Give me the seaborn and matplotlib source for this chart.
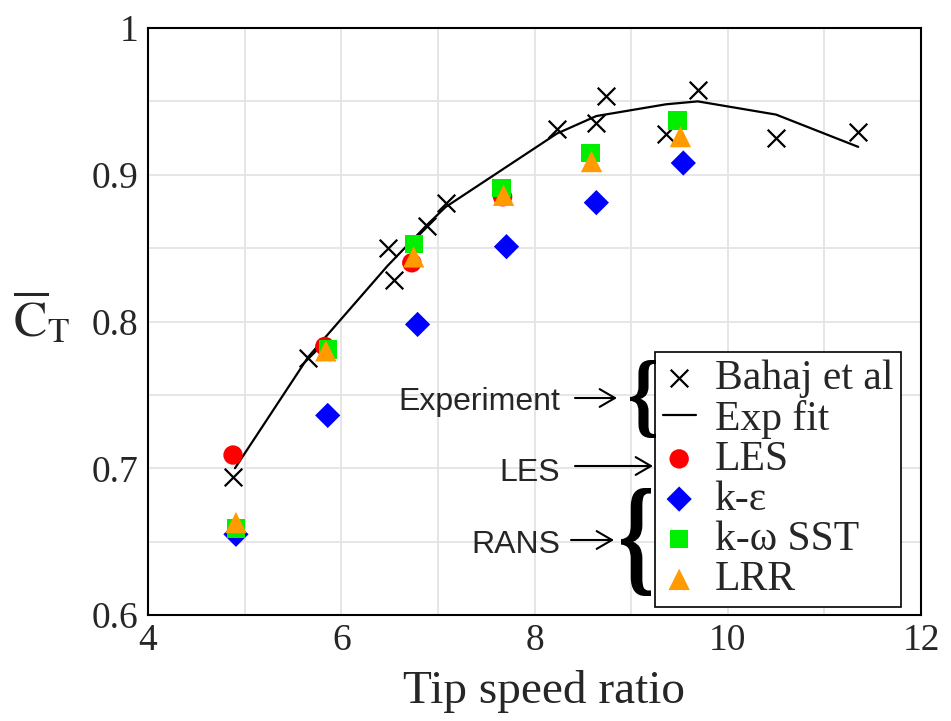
import matplotlib
matplotlib.use("Agg")
import matplotlib.pyplot as plt
import seaborn as sns
import pandas as pd
from matplotlib.textpath import TextPath
from matplotlib.font_manager import FontProperties
from matplotlib.patches import PathPatch, FancyArrowPatch
from matplotlib.transforms import Affine2D

# ---------------- data ----------------
bahaj_x = [4.88, 5.66, 6.48, 6.55, 6.89, 7.08, 8.23, 8.64, 8.74, 9.36, 9.69, 10.50, 11.35]
bahaj_y = [0.694, 0.775, 0.850, 0.828, 0.865, 0.881, 0.931, 0.935, 0.954, 0.928, 0.958, 0.925, 0.929]

fit_x = [4.90, 5.66, 6.48, 6.89, 7.08, 8.23, 8.64, 9.36, 9.69, 10.50, 11.35]
fit_y = [0.700, 0.776, 0.838, 0.866, 0.878, 0.928, 0.940, 0.948, 0.950, 0.941, 0.919]

les_x = [4.88, 5.83, 6.73, 7.67]
les_y = [0.709, 0.783, 0.840, 0.885]

ke_x = [4.91, 5.86, 6.79, 7.71, 8.64, 9.54]
ke_y = [0.655, 0.736, 0.798, 0.851, 0.881, 0.908]

sst_x = [4.91, 5.86, 6.75, 7.66, 8.58, 9.48]
sst_y = [0.659, 0.781, 0.853, 0.891, 0.915, 0.937]

lrr_x = [4.91, 5.84, 6.75, 7.68, 8.59, 9.51]
lrr_y = [0.663, 0.780, 0.844, 0.886, 0.909, 0.926]

x_major = [4, 6, 8, 10, 12]
x_minor = [5, 7, 9, 11]
y_major = [0.6, 0.7, 0.8, 0.9, 1.0]
y_major_labels = ["0.6", "0.7", "0.8", "0.9", "1"]
y_minor = [0.65, 0.75, 0.85, 0.95]

labels = ["Bahaj et al", "Exp fit", "LES", "k-\u03b5", "k-\u03c9 SST", "LRR"]

# ---------------- figure ----------------
sns.set_style("white")
plt.rcParams["font.family"] = ["Liberation Serif", "DejaVu Serif"]
plt.rcParams["mathtext.fontset"] = "stix"

W, H = 951, 721
fig = plt.figure(figsize=(W / 100, H / 100), dpi=100)
ax = fig.add_axes([148 / W, (H - 615) / H, (921 - 148) / W, (615 - 28) / H])

sns.scatterplot(x=bahaj_x, y=bahaj_y, ax=ax, marker="x", s=160, color="black",
                linewidth=1.6, label=labels[0], zorder=3)
sns.lineplot(x=fit_x, y=fit_y, ax=ax, color="black", linewidth=1.6, label=labels[1],
             sort=False, zorder=3)
sns.scatterplot(x=les_x, y=les_y, ax=ax, marker="o", s=195, color="#ff0000",
                edgecolor="none", label=labels[2], zorder=4)
sns.scatterplot(x=ke_x, y=ke_y, ax=ax, marker="D", s=165, color="#0000ff",
                edgecolor="none", label=labels[3], zorder=5)
sns.scatterplot(x=sst_x, y=sst_y, ax=ax, marker="s", s=175, color="#00ee00",
                edgecolor="none", label=labels[4], zorder=6)
sns.scatterplot(x=lrr_x, y=lrr_y, ax=ax, marker="^", s=235, color="#ff9a00",
                edgecolor="none", label=labels[5], zorder=7)

ax.set_xlim(4, 12)
ax.set_ylim(0.6, 1.0)
ax.set_xticks(x_major)
ax.set_xticks(x_minor, minor=True)
ax.set_yticks(y_major)
ax.set_yticks(y_minor, minor=True)
ax.set_xticklabels([str(v) for v in x_major])
ax.set_yticklabels(y_major_labels)
ax.tick_params(axis="both", which="both", length=0, labelsize=27)
ax.tick_params(axis="x", pad=6)
ax.tick_params(axis="y", pad=7)
ax.grid(True, which="both", color="#e4e4e4", linewidth=1.3)
ax.set_axisbelow(True)
ax.set_xlabel("")
ax.set_ylabel("")
for sp in ax.spines.values():
    sp.set_visible(True)
    sp.set_color("black")
    sp.set_linewidth(1.5)

# legend
handles, labs = ax.get_legend_handles_labels()
leg = ax.legend(handles, labs, loc="upper left",
                bbox_to_anchor=(655 / W, 1 - 352 / H), bbox_transform=fig.transFigure,
                borderaxespad=0, prop={"family": "Liberation Serif", "size": 30},
                frameon=True, fancybox=False, framealpha=1, edgecolor="black",
                borderpad=0.18, labelspacing=0.04, handlelength=0.8,
                handletextpad=0.45, scatterpoints=1)
leg.get_frame().set_linewidth(1.2)
leg.set_zorder(10)

# axis labels
fig.text(544 / W, 1 - 703 / H, "Tip speed ratio", ha="center", va="baseline",
         fontsize=34, family="Liberation Serif")
fig.text(41 / W, 1 - 319 / H, r"$\overline{\mathrm{C}}_{\mathrm{T}}$", ha="center",
         va="center", fontsize=36)

# annotations: texts, arrows, braces
def ftx(x):
    return x / W

def fty(y):
    return 1 - y / H

for txt, ybase, yarrow, x0, x1 in [("Experiment", 410, 398, 575, 617),
                                   ("LES", 481, 466, 575, 653),
                                   ("RANS", 553, 540, 571, 614)]:
    fig.text(ftx(560), fty(ybase), txt, ha="right", va="baseline", fontsize=23,
             family="Liberation Sans")
    arr = FancyArrowPatch((ftx(x0), fty(yarrow)), (ftx(x1), fty(yarrow)),
                          transform=fig.transFigure,
                          arrowstyle="->,head_length=0.55,head_width=0.32",
                          mutation_scale=20, lw=1.5, color="black",
                          shrinkA=0, shrinkB=0)
    fig.add_artist(arr)


def brace(x0, x1, ytop, ybot):
    tp = TextPath((0, 0), "{", size=100,
                  prop=FontProperties(family="Liberation Serif", weight="bold"))
    ext = tp.get_extents()
    fx0, fx1 = ftx(x0), ftx(x1)
    fy0, fy1 = fty(ybot), fty(ytop)
    tr = (Affine2D().translate(-ext.x0, -ext.y0)
          .scale((fx1 - fx0) / ext.width, (fy1 - fy0) / ext.height)
          .translate(fx0, fy0))
    patch = PathPatch(tr.transform_path(tp), transform=fig.transFigure,
                      facecolor="black", edgecolor="none")
    fig.add_artist(patch)


brace(630, 656, 360, 438)
brace(621, 651, 488, 596)

fig.savefig("out.png", dpi=100)
